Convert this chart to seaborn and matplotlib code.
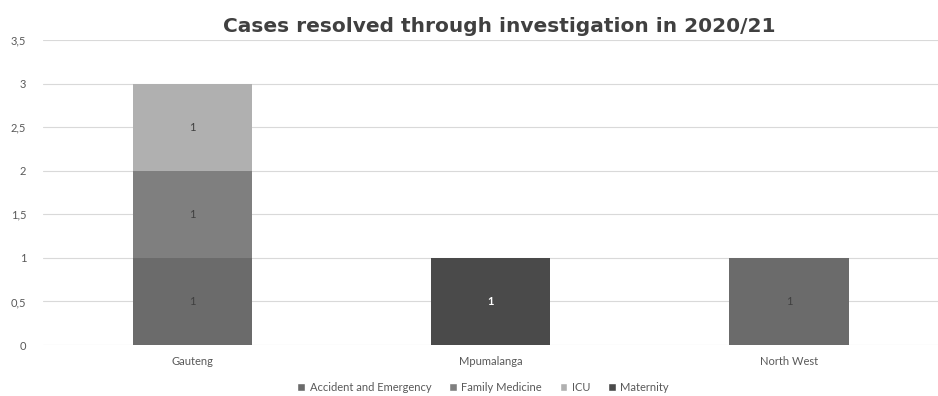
import matplotlib
matplotlib.use("Agg")
import matplotlib.pyplot as plt
import seaborn as sns
import pandas as pd
from matplotlib.patches import Patch

regions = ["Gauteng", "Mpumalanga", "North West"]
series_names = ["Accident and Emergency", "Family Medicine", "ICU", "Maternity"]
accident = [1, 0, 1]
family = [1, 0, 0]
icu = [1, 0, 0]
maternity = [0, 1, 0]
yticks = [0, 0.5, 1, 1.5, 2, 2.5, 3, 3.5]
ytick_labels = ["0", "0,5", "1", "1,5", "2", "2,5", "3", "3,5"]
title = "Cases resolved through investigation in 2020/21"

colors = ["#6b6b6b", "#7f7f7f", "#b0b0b0", "#4a4a4a"]
label_colors = ["#404040", "#404040", "#404040", "#ffffff"]

sns.set_theme(style="white")
plt.rcParams["font.family"] = ["Lato", "DejaVu Sans"]

fig = plt.figure(figsize=(9.38, 3.96), dpi=100)
ax = fig.add_axes([43 / 938, 51 / 396, 895 / 938, 305 / 396])

values = [accident, family, icu, maternity]
bottom = [0.0] * len(regions)
for name, vals, col, lc in zip(series_names, values, colors, label_colors):
    df = pd.DataFrame({"region": regions, "value": vals})
    sns.barplot(data=df, x="region", y="value", color=col, width=0.4,
                bottom=bottom, ax=ax, saturation=1, errorbar=None, zorder=3,
                linewidth=0, edgecolor="none")
    for i, v in enumerate(vals):
        if v:
            ax.text(i, bottom[i] + v / 2, str(v), ha="center", va="center",
                    fontsize=8, color=lc, fontweight="bold" if lc == "#ffffff" else "normal", zorder=5)
    bottom = [b + v for b, v in zip(bottom, vals)]

ax.set_xlim(-0.5, 2.5)
ax.set_ylim(0, 3.5)
ax.set_yticks(yticks)
ax.set_yticklabels(ytick_labels)
ax.set_xlabel("")
ax.set_ylabel("")
ax.grid(axis="y", color="#d9d9d9", linewidth=0.8, zorder=0)
ax.set_axisbelow(True)
for s in ax.spines.values():
    s.set_visible(False)
ax.tick_params(axis="both", length=0, labelsize=8, labelcolor="#595959")
ax.tick_params(axis="y", pad=12)
ax.tick_params(axis="x", pad=8)

fig.text(0.532, 0.932, title, ha="center", va="center", fontsize=14.5,
         fontweight="bold", color="#404040", family=["DejaVu Sans"])

handles = [Patch(facecolor=c, label=n) for c, n in zip(colors, series_names)]
fig.legend(handles=handles, loc="center", bbox_to_anchor=(0.515, 0.022), ncol=4,
           frameon=False, fontsize=8, labelcolor="#595959", handlelength=0.7,
           handleheight=0.7, handletextpad=0.4, columnspacing=1.6)

fig.savefig("out.png", dpi=100)
